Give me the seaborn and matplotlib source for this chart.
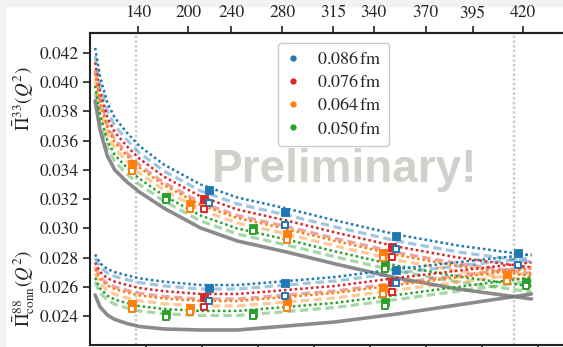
import numpy as np
import matplotlib
matplotlib.use("Agg")
import matplotlib.pyplot as plt
import seaborn as sns
from matplotlib.lines import Line2D
from matplotlib.patches import Rectangle
from matplotlib.ticker import FormatStrFormatter

sns.set_theme(style="ticks")
plt.rcParams["font.family"] = ["STIXGeneral", "DejaVu Serif"]
plt.rcParams["mathtext.fontset"] = "stix"

# ---------------------------------------------------------------- data
spacings = ["0.086", "0.076", "0.064", "0.050"]
colors = ["#1f77b4", "#d62728", "#ff7f0e", "#2ca02c"]

# Q^2 [GeV^2] at which the fitted curves are tabulated
q2_grid = [0.002, 0.004, 0.007, 0.01, 0.015, 0.02, 0.03, 0.045, 0.06, 0.08, 0.1, 0.125, 0.15, 0.18]

# isovector Pi^33: continuum curve, fit A (dotted) and fit B (dashed) per lattice spacing
pi33_cont = [0.03870, 0.03672, 0.03494, 0.03399, 0.03317, 0.03249, 0.03139, 0.03003, 0.02914, 0.02839, 0.02757, 0.02661, 0.02586, 0.02518]
pi33_fitA_086 = [0.04233, 0.04035, 0.03857, 0.03756, 0.03653, 0.03564, 0.03436, 0.03300, 0.03211, 0.03136, 0.03054, 0.02958, 0.02883, 0.02815]
pi33_fitA_076 = [0.04133, 0.03935, 0.03757, 0.03657, 0.03560, 0.03477, 0.03354, 0.03218, 0.03129, 0.03054, 0.02972, 0.02876, 0.02801, 0.02733]
pi33_fitA_064 = [0.04062, 0.03864, 0.03686, 0.03588, 0.03495, 0.03416, 0.03296, 0.03160, 0.03071, 0.02996, 0.02914, 0.02818, 0.02743, 0.02675]
pi33_fitA_050 = [0.03974, 0.03776, 0.03598, 0.03502, 0.03414, 0.03340, 0.03224, 0.03088, 0.02999, 0.02924, 0.02842, 0.02746, 0.02671, 0.02603]
pi33_fitB_086 = [0.04178, 0.03980, 0.03802, 0.03702, 0.03603, 0.03517, 0.03392, 0.03256, 0.03167, 0.03092, 0.03010, 0.02914, 0.02839, 0.02771]
pi33_fitB_076 = [0.04083, 0.03885, 0.03707, 0.03608, 0.03514, 0.03434, 0.03313, 0.03177, 0.03088, 0.03013, 0.02931, 0.02835, 0.02760, 0.02692]
pi33_fitB_064 = [0.04020, 0.03822, 0.03644, 0.03547, 0.03456, 0.03379, 0.03262, 0.03126, 0.03037, 0.02962, 0.02880, 0.02784, 0.02709, 0.02641]
pi33_fitB_050 = [0.03928, 0.03730, 0.03552, 0.03456, 0.03371, 0.03300, 0.03187, 0.03051, 0.02962, 0.02887, 0.02805, 0.02709, 0.02634, 0.02566]

# connected Pi^88
pi88_cont = [0.02545, 0.02463, 0.02408, 0.02378, 0.02350, 0.02330, 0.02313, 0.02306, 0.02306, 0.02333, 0.02361, 0.02415, 0.02477, 0.02552]
pi88_fitA_086 = [0.02822, 0.02761, 0.02722, 0.02701, 0.02679, 0.02659, 0.02636, 0.02613, 0.02613, 0.02640, 0.02668, 0.02722, 0.02769, 0.02823]
pi88_fitA_076 = [0.02766, 0.02702, 0.02659, 0.02636, 0.02613, 0.02593, 0.02571, 0.02552, 0.02552, 0.02579, 0.02607, 0.02661, 0.02711, 0.02768]
pi88_fitA_064 = [0.02723, 0.02655, 0.02610, 0.02586, 0.02562, 0.02542, 0.02521, 0.02504, 0.02504, 0.02531, 0.02559, 0.02613, 0.02665, 0.02726]
pi88_fitA_050 = [0.02662, 0.02589, 0.02540, 0.02514, 0.02489, 0.02469, 0.02449, 0.02436, 0.02436, 0.02463, 0.02491, 0.02545, 0.02600, 0.02666]
pi88_fitB_086 = [0.02797, 0.02735, 0.02694, 0.02672, 0.02650, 0.02630, 0.02607, 0.02586, 0.02586, 0.02613, 0.02641, 0.02695, 0.02743, 0.02798]
pi88_fitB_076 = [0.02736, 0.02668, 0.02624, 0.02600, 0.02577, 0.02557, 0.02535, 0.02518, 0.02518, 0.02545, 0.02573, 0.02627, 0.02678, 0.02738]
pi88_fitB_064 = [0.02693, 0.02622, 0.02575, 0.02550, 0.02525, 0.02505, 0.02485, 0.02470, 0.02470, 0.02497, 0.02525, 0.02579, 0.02633, 0.02696]
pi88_fitB_050 = [0.02634, 0.02559, 0.02509, 0.02482, 0.02456, 0.02436, 0.02417, 0.02405, 0.02405, 0.02432, 0.02460, 0.02514, 0.02571, 0.02639]

# lattice data points: Q^2 per ensemble, values for estimator A (filled) and B (open)
pts_q2 = {
    "0.086": [0.04844, 0.07944, 0.12472, 0.17436],
    "0.076": [0.04640, 0.12297],
    "0.064": [0.01691, 0.04069, 0.08038, 0.11954, 0.16988],
    "0.050": [0.03078, 0.06627, 0.12023, 0.17775],
}
pi33_ptsA = {
    "0.086": [0.03262, 0.03110, 0.02948, 0.02834],
    "0.076": [0.03201, 0.02875],
    "0.064": [0.03440, 0.03167, 0.02962, 0.02832, 0.02682],
    "0.050": [0.03214, 0.03003, 0.02757, 0.02632],
}
pi33_ptsB = {
    "0.086": [0.03175, 0.03021, 0.02859, 0.02750],
    "0.076": [0.03132, 0.02807],
    "0.064": [0.03392, 0.03132, 0.02921, 0.02798, 0.02641],
    "0.050": [0.03194, 0.02982, 0.02723, 0.02606],
}
pi88_ptsA = {
    "0.086": [0.02595, 0.02625, 0.02716],
    "0.076": [0.02533, 0.02632],
    "0.064": [0.02484, 0.02456, 0.02497, 0.02593],
    "0.050": [0.02415, 0.02422, 0.02497],
}
pi88_ptsB = {
    "0.086": [0.02506, 0.02538, 0.02625],
    "0.076": [0.02461, 0.02563],
    "0.064": [0.02449, 0.02429, 0.02456, 0.02552],
    "0.050": [0.02395, 0.02402, 0.02470],
}

mark_q2 = [0.01866, 0.1730]
top_ticks_mev = [140, 200, 240, 280, 315, 340, 370, 395, 420]
y_ticks = [0.024, 0.026, 0.028, 0.030, 0.032, 0.034, 0.036, 0.038, 0.040, 0.042]
q2_tick_step = 0.02284

fitA = {"pi33": [pi33_fitA_086, pi33_fitA_076, pi33_fitA_064, pi33_fitA_050],
        "pi88": [pi88_fitA_086, pi88_fitA_076, pi88_fitA_064, pi88_fitA_050]}
fitB = {"pi33": [pi33_fitB_086, pi33_fitB_076, pi33_fitB_064, pi33_fitB_050],
        "pi88": [pi88_fitB_086, pi88_fitB_076, pi88_fitB_064, pi88_fitB_050]}
cont = {"pi33": pi33_cont, "pi88": pi88_cont}

# ---------------------------------------------------------------- figure
W, H = 563, 347
fig = plt.figure(figsize=(W / 100, H / 100), dpi=100)
fig.patch.set_facecolor("white")
fig.patches.append(Rectangle((0, 1 - 6 / H), 1, 6 / H, transform=fig.transFigure,
                             color="#f3f3f3", zorder=-5))
fig.patches.append(Rectangle((0, 0), 5 / W, 1, transform=fig.transFigure,
                             color="#f3f3f3", zorder=-5))

ax = fig.add_axes([90.25 / W, 2 / H, 490.25 / W, 311.7 / H])

for q in mark_q2:
    ax.axvline(q, color="#c9c9c9", ls=(0, (1.0, 1.0)), lw=1.7, zorder=1)

dot_ls = (0, (1.0, 1.15))
dash_ls = (0, (2.6, 1.4))

for key in ["pi33", "pi88"]:
    for vals, c in zip(fitB[key], colors):
        sns.lineplot(x=q2_grid, y=vals, ax=ax, color=c, lw=2.3, alpha=0.42,
                     linestyle=dash_ls, estimator=None, sort=False, zorder=2)
    sns.lineplot(x=q2_grid, y=cont[key], ax=ax, color="#777777", lw=2.6, alpha=0.85,
                 estimator=None, sort=False, zorder=2.5)
    for vals, c in zip(fitA[key], colors):
        sns.lineplot(x=q2_grid, y=vals, ax=ax, color=c, lw=1.8,
                     linestyle=dot_ls, estimator=None, sort=False, zorder=3)

for ptsA, ptsB in [(pi33_ptsA, pi33_ptsB), (pi88_ptsA, pi88_ptsB)]:
    for a, c in zip(spacings, colors):
        n = len(ptsA[a])
        sns.scatterplot(x=pts_q2[a][:n], y=ptsA[a], ax=ax, marker="s", s=32,
                        color=c, edgecolor=c, linewidth=0.6, zorder=5)
        sns.scatterplot(x=pts_q2[a][:n], y=ptsB[a], ax=ax, marker="s", s=20,
                        color="white", edgecolor=c, linewidth=1.4, zorder=6)

ax.set_xlim(0, 0.2)
ax.set_ylim(0.022034, 0.043325)

ax.text(344.5 / W, 1 - 182 / H, "Preliminary!", transform=fig.transFigure,
        ha="center", va="baseline", fontsize=33, fontweight="bold",
        family="Liberation Sans", color="#d0d1cb", zorder=1.5)

# axes styling
for side in ["left", "top", "bottom"]:
    ax.spines[side].set_color("#222222")
    ax.spines[side].set_linewidth(1.5)
ax.spines["right"].set_visible(False)
ax.set_yticks(y_ticks)
ax.yaxis.set_major_formatter(FormatStrFormatter("%.3f"))
ax.set_xticks(np.arange(1, 9) * q2_tick_step)
ax.tick_params(axis="both", direction="out", length=5, width=1.2, colors="#222222",
               labelsize=12.5, pad=3.5)
ax.tick_params(axis="x", labelbottom=False)
ax.set_xlabel("")
ax.set_ylabel("")


def q2_to_mev(q):
    return np.sqrt(np.clip(q, 0, None)) * 1000.0


def mev_to_q2(m):
    return (np.asarray(m) / 1000.0) ** 2


secax = ax.secondary_xaxis("top", functions=(q2_to_mev, mev_to_q2))
secax.set_xticks(top_ticks_mev)
secax.tick_params(direction="out", length=5, width=1.2, colors="#222222",
                  labelsize=12.5, pad=3.5)
secax.spines["top"].set_linewidth(1.5)
secax.spines["top"].set_color("#222222")

# y-axis labels for the two correlators
fig.text(24 / W, 1 - 99 / H, r"$\bar{\Pi}^{33}(Q^2)$", rotation=90,
         ha="center", va="center", fontsize=13.5)
fig.text(24 / W, 1 - 288 / H, r"$\bar{\Pi}^{88}_{\rm conn}(Q^2)$", rotation=90,
         ha="center", va="center", fontsize=13.5)

handles = [Line2D([], [], ls="none", marker="o", ms=3.5, color=c) for c in colors]
labels = [rf"${a}\,\mathrm{{fm}}$" for a in spacings]
ax.legend(handles, labels, loc="upper left", bbox_to_anchor=(278 / W, 1 - 42.7 / H),
          bbox_transform=fig.transFigure, fontsize=13, frameon=True, fancybox=True,
          handlelength=0.8, handletextpad=0.9, labelspacing=0.35, borderpad=0.45,
          borderaxespad=0, edgecolor="#cccccc", framealpha=1)

fig.savefig("out.png", dpi=100)
